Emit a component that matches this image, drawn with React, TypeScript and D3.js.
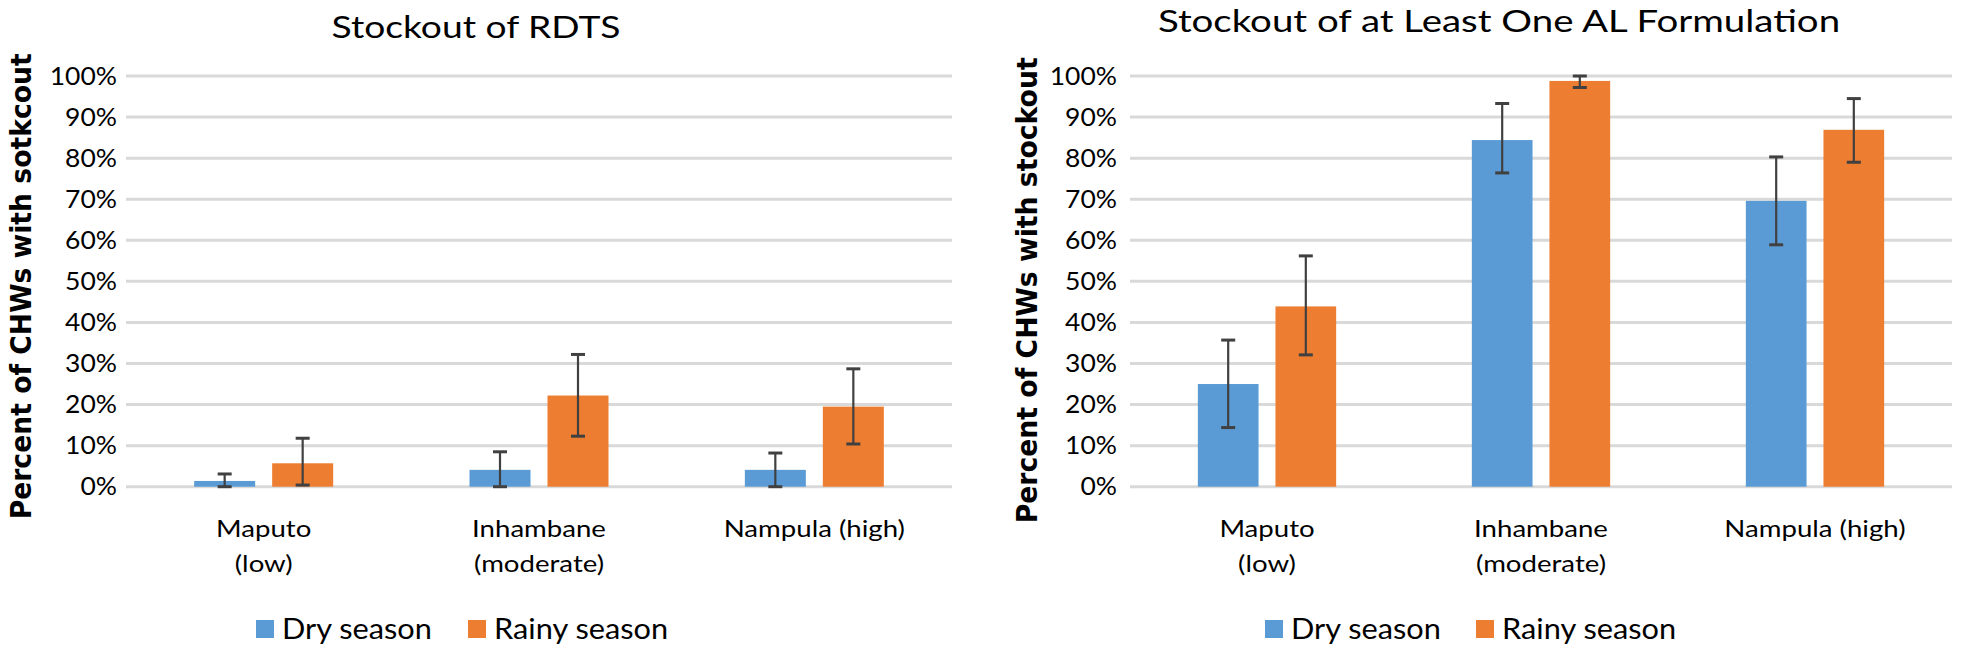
import React from "react";
import * as d3 from "d3";

const categories = ["Maputo (low)", "Inhambane (moderate)", "Nampula (high)"];
const categoryLines = [["Maputo", "(low)"], ["Inhambane", "(moderate)"], ["Nampula (high)"]];
const seriesNames = ["Dry season", "Rainy season"];
const yTicks = [0, 10, 20, 30, 40, 50, 60, 70, 80, 90, 100];

// Stockout of RDTS
const rdtDry = [1.4, 4.1, 4.1];
const rdtDryLow = [0, 0, 0];
const rdtDryHigh = [3.1, 8.5, 8.2];
const rdtRainy = [5.7, 22.2, 19.5];
const rdtRainyLow = [0.4, 12.3, 10.4];
const rdtRainyHigh = [11.8, 32.2, 28.7];

// Stockout of at least one AL formulation
const alDry = [25.0, 84.4, 69.6];
const alDryLow = [14.4, 76.4, 58.9];
const alDryHigh = [35.7, 93.3, 80.3];
const alRainy = [43.9, 98.8, 86.9];
const alRainyLow = [32.1, 97.2, 79.0];
const alRainyHigh = [56.2, 100, 94.5];

const COLORS = ["#5B9BD5", "#ED7D31"];
const FONT = "Lato, 'Open Sans', sans-serif";
const SX = 1.15;

function SText({ x, y, anchor = "middle", size, children, sx = SX, fill = "#000", weight = 400 }: any) {
  return (
    <g transform={`translate(${x},${y}) scale(${sx},1)`}>
      <text textAnchor={anchor} fontFamily={FONT} fontSize={size} fill={fill} fontWeight={weight}>
        {children}
      </text>
    </g>
  );
}

function Panel({ cfg, values, lows, highs }: any) {
  const x0 = d3.scaleBand<string>().domain(categories).range([cfg.left, cfg.right]).padding(0);
  const x1 = d3
    .scaleBand<string>()
    .domain(seriesNames)
    .range([0, x0.bandwidth()])
    .paddingInner(0.218)
    .paddingOuter(0.874);
  const y = d3.scaleLinear().domain([0, 100]).range([cfg.bottom, cfg.top]);
  const fmt = (v: number) => `${v}%`;
  const capW = 14;

  return (
    <g>
      <SText x={cfg.titleX} y={cfg.titleY} size={31} sx={cfg.titleSx}>{cfg.title}</SText>
      <g transform={`translate(${cfg.yLabelX},${(cfg.top + cfg.bottom) / 2 + cfg.yLabelDy}) rotate(-90)`}>
        <text
          textAnchor="middle"
          fontFamily="'DejaVu Sans', Verdana, sans-serif"
          fontWeight="bold"
          fontSize={29}
          textLength={466}
          lengthAdjust="spacingAndGlyphs"
          fill="#000"
        >
          {cfg.yLabel}
        </text>
      </g>
      {yTicks.map((t) => (
        <g key={t}>
          <line x1={cfg.left} x2={cfg.right} y1={y(t)} y2={y(t)} stroke="#D9D9D9" strokeWidth={3} />
          <SText x={cfg.tickRight} y={y(t) + 8.6} anchor="end" size={24.5} sx={1.08}>
            {fmt(t)}
          </SText>
        </g>
      ))}
      {categories.map((c, ci) => (
        <g key={c}>
          {seriesNames.map((s, si) => {
            const bx = (x0(c) as number) + (x1(s) as number);
            const bw = x1.bandwidth();
            const v = values[si][ci];
            const lo = lows[si][ci];
            const hi = highs[si][ci];
            const cx = bx + bw / 2;
            return (
              <g key={s}>
                <rect x={bx} y={y(v)} width={bw} height={y(0) - y(v)} fill={COLORS[si]} />
                <line x1={cx} x2={cx} y1={y(hi)} y2={y(lo)} stroke="#404040" strokeWidth={2.2} />
                <line x1={cx - capW / 2} x2={cx + capW / 2} y1={y(hi)} y2={y(hi)} stroke="#404040" strokeWidth={3} />
                <line x1={cx - capW / 2} x2={cx + capW / 2} y1={y(lo)} y2={y(lo)} stroke="#404040" strokeWidth={3} />
              </g>
            );
          })}
          {categoryLines[ci].map((line, li) => (
            <SText key={li} x={(x0(c) as number) + x0.bandwidth() / 2} y={537 + li * 35} size={24}>
              {line}
            </SText>
          ))}
        </g>
      ))}
      {seriesNames.map((s, si) => (
        <g key={s}>
          <rect x={cfg.legendX[si]} y={620} width={18} height={18} fill={COLORS[si]} />
          <SText x={cfg.legendX[si] + 26} y={639.3} anchor="start" size={29} sx={1.06}>
            {s}
          </SText>
        </g>
      ))}
    </g>
  );
}

export default function App() {
  const leftCfg = {
    left: 126,
    right: 952,
    top: 76,
    bottom: 486.7,
    tickRight: 117,
    title: "Stockout of RDTS",
    titleX: 476,
    titleY: 37.7,
    titleSx: 1.2,
    yLabel: "Percent of CHWs with sotkcout",
    yLabelX: 31,
    yLabelDy: 5,
    legendX: [256, 468],
  };
  const rightCfg = {
    left: 1130,
    right: 1952,
    top: 76,
    bottom: 486.7,
    tickRight: 1117,
    title: "Stockout of at Least One AL Formulation",
    titleX: 1499,
    titleY: 32,
    titleSx: 1.24,
    yLabel: "Percent of CHWs with stockout",
    yLabelX: 1037,
    yLabelDy: 9,
    legendX: [1265, 1476],
  };
  return (
    <div style={{ position: "absolute", left: 0, top: 0 }}>
      <svg width={1961} height={651} style={{ display: "block", background: "#fff" }}>
        <rect width={1961} height={651} fill="#fff" />
        <Panel
          cfg={leftCfg}
          values={[rdtDry, rdtRainy]}
          lows={[rdtDryLow, rdtRainyLow]}
          highs={[rdtDryHigh, rdtRainyHigh]}
        />
        <Panel
          cfg={rightCfg}
          values={[alDry, alRainy]}
          lows={[alDryLow, alRainyLow]}
          highs={[alDryHigh, alRainyHigh]}
        />
      </svg>
    </div>
  );
}
